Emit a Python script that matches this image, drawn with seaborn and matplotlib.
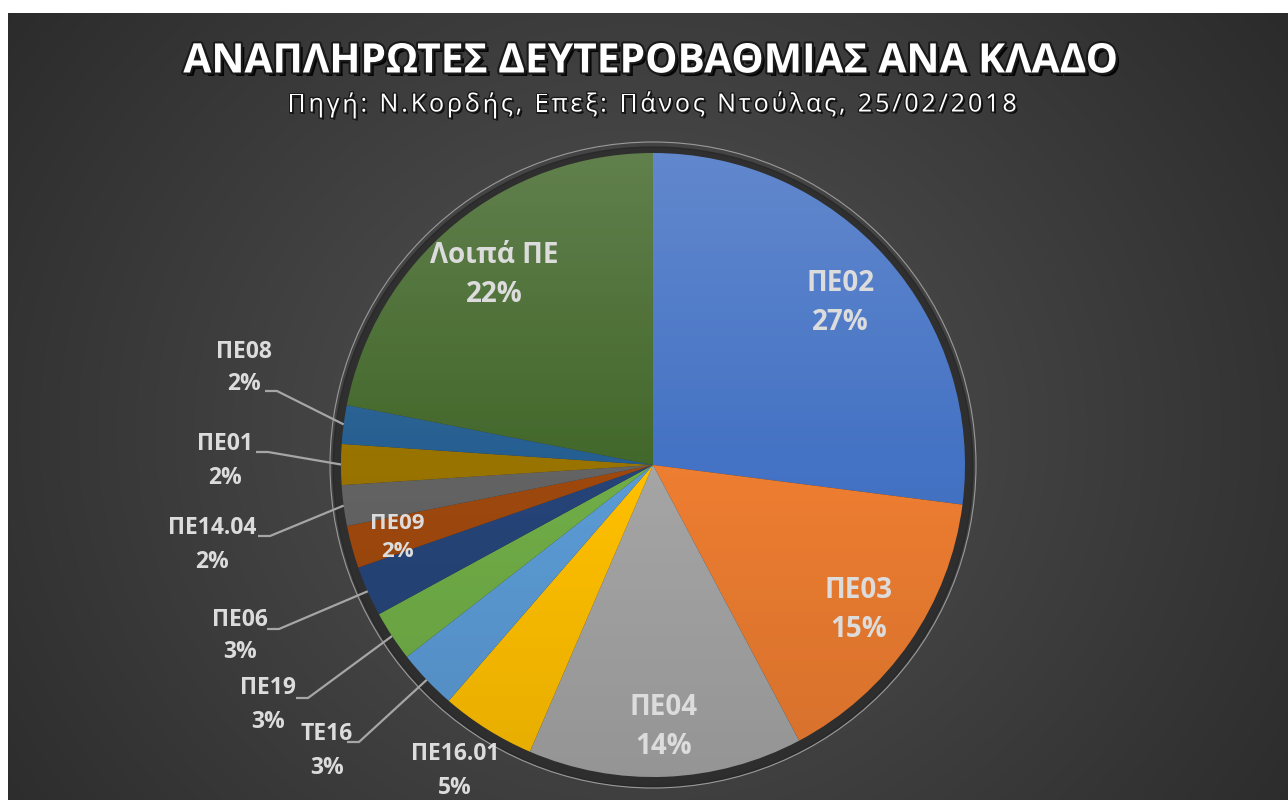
import seaborn as sns
import matplotlib.pyplot as plt
import matplotlib.patheffects as pe
from matplotlib.patches import Circle
from matplotlib.font_manager import FontProperties
import numpy as np

# data
branches = ['ΠΕ02', 'ΠΕ03', 'ΠΕ04', 'ΠΕ16.01', 'ΤΕ16', 'ΠΕ19', 'ΠΕ06',
            'ΠΕ09', 'ΠΕ14.04', 'ΠΕ01', 'ΠΕ08', 'Λοιπά ΠΕ']
shares = [27.0, 15.2, 14.2, 4.9, 3.1, 2.6, 2.6, 2.2, 2.1, 2.1, 2.0, 21.9]
colors = ['#4472C4', '#ED7D31', '#A5A5A5', '#FFC000', '#5B9BD5', '#70AD47',
          '#264478', '#9E480E', '#636363', '#997300', '#255E91', '#43682B']

title = 'ΑΝΑΠΛΗΡΩΤΕΣ ΔΕΥΤΕΡΟΒΑΘΜΙΑΣ ΑΝΑ ΚΛΑΔΟ'
subtitle = 'Πηγή: Ν.Κορδής, Επεξ: Πάνος Ντούλας, 25/02/2018'

sns.set_theme(style='white')
plt.rcParams['font.family'] = ['Open Sans', 'DejaVu Sans']

W, H = 1288, 800
fig = plt.figure(figsize=(W / 100, H / 100), dpi=100, facecolor='white')

# dark radial background (chart area starts at x=8, y=13)
bg = fig.add_axes([8 / W, 0, 1 - 8 / W, 1 - 13 / H])
yy, xx = np.mgrid[13:H, 8:W]
d = np.hypot((xx - 640) / 1.1, yy - 430) / 760
shade = np.clip(0.33 - 0.17 * d, 0.15, 0.35)
bg.imshow(np.dstack([shade] * 3), extent=(8, W, H, 13), aspect='auto')
bg.axis('off')

# main axes in pixel coordinates (y downwards)
ax = fig.add_axes([0, 0, 1, 1])
ax.axis('off')
ax.patch.set_alpha(0)

cx, cy, R = 653, 465, 312

# soft shadow ring and thin outer line
ax.add_patch(Circle((cx, cy + 2), R + 8, color='#222222', alpha=0.6, zorder=1))
ax.add_patch(Circle((cx, cy), R + 11, fill=False, ec='#9a9a9a', lw=0.8, zorder=1))

wedges, _ = ax.pie(shares, colors=colors, center=(cx, cy), radius=R,
                   startangle=-90, counterclock=True, frame=True,
                   wedgeprops=dict(linewidth=0, zorder=2))
ax.set_xlim(0, W)
ax.set_ylim(H, 0)
ax.set_aspect('equal')
ax.axis('off')

# light-to-dark vertical shading across the pie
grad = np.linspace(0, 1, 256)[:, None]
ov = np.zeros((256, 2, 4))
ov[..., :3] = np.where(grad < 0.5, 1.0, 0.0)[..., None]
ov[..., 3] = np.where(grad < 0.5, 0.16 * (1 - grad / 0.5), 0.10 * (grad - 0.5) / 0.5)
im = ax.imshow(ov, extent=(cx - R, cx + R, cy + R, cy - R), aspect='auto', zorder=3)
im.set_clip_path(Circle((cx, cy), R, transform=ax.transData))

txt_col = '#dcdcdc'


def mid_point(w, r):
    a = np.deg2rad((w.theta1 + w.theta2) / 2)
    return cx + r * np.cos(a), cy + r * np.sin(a)


# labels inside the slices (radius factor, font size)
inside = {'ΠΕ02': (0.80, 20), 'ΠΕ03': (0.80, 20), 'ΠΕ04': (0.83, 20),
          'Λοιπά ΠΕ': (0.80, 20), 'ΠΕ09': (0.85, 16)}
# labels outside: text centre and leader start
outside = {'ΠΕ08': ((244, 368), (265, 391)), 'ΠΕ01': ((225, 461), (256, 452)),
           'ΠΕ14.04': ((212, 545), (258, 536)), 'ΠΕ06': ((240, 636), (267, 629)),
           'ΠΕ19': ((268, 705), (296, 698)), 'ΤΕ16': ((327, 751), (347, 742)),
           'ΠΕ16.01': ((455, 771), None)}

for w, name, val in zip(wedges, branches, shares):
    lab = f'{name}\n{val:.0f}%'
    if name in inside:
        rf, fs = inside[name]
        x, y = mid_point(w, rf * R)
        ax.text(x, y + 3, lab, ha='center', va='center', fontsize=fs,
                fontweight='bold', color=txt_col, linespacing=1.45, zorder=5)
    else:
        (tx, ty), start = outside[name]
        ax.text(tx, ty, lab, ha='center', va='center', fontsize=16.5,
                fontweight='bold', color=txt_col, linespacing=1.5, zorder=5)
        if start is not None:
            ex, ey = mid_point(w, R)
            ax.plot([start[0], start[0] + 12, ex], [start[1], start[1], ey],
                    color='#a6a6a6', lw=1.6, zorder=4, solid_capstyle='butt')

ax.text(651, 62, title, ha='center', va='center', fontsize=29.3,
        fontweight='bold', color='white', zorder=6,
        path_effects=[pe.withSimplePatchShadow(offset=(2.5, -2.5), shadow_rgbFace='black', alpha=0.9),
                      pe.Stroke(linewidth=3, foreground='#1a1a1a'), pe.Normal()])

# subtitle with expanded letter spacing
renderer = fig.canvas.get_renderer()
fp = FontProperties(family=['Open Sans', 'DejaVu Sans'], size=18)
widths = [renderer.get_text_width_height_descent(ch, fp, ismath=False)[0] for ch in subtitle]
gap = 2.9
total = sum(widths) + gap * (len(subtitle) - 1)
x = 652 - total / 2
sub_fx = [pe.withSimplePatchShadow(offset=(1.5, -1.5), shadow_rgbFace='black', alpha=0.8),
          pe.Stroke(linewidth=2, foreground='#1a1a1a'), pe.Normal()]
for ch, wd in zip(subtitle, widths):
    ax.text(x, 105, ch, ha='left', va='center', fontproperties=fp,
            color='white', zorder=6, path_effects=sub_fx)
    x += wd + gap

fig.savefig('out.png', dpi=100, facecolor='white')
